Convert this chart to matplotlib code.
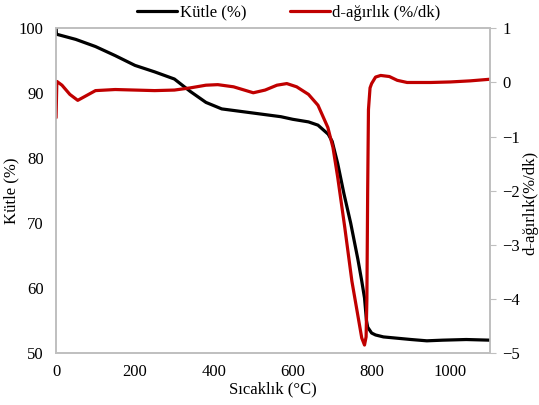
import matplotlib
matplotlib.use("Agg")
import matplotlib.pyplot as plt

# Temperature (°C) and mass (%)
mass_T = [0, 1, 50, 100, 150, 200, 250, 300, 340, 380, 420, 470, 520, 570, 600, 640,
          664, 690, 700, 714, 730, 747, 765, 775, 782, 787, 790, 800, 810, 830, 865, 900,
          940, 980, 1040, 1100]
mass = [100, 99.1, 98.3, 97.2, 95.8, 94.3, 93.3, 92.2, 90.3, 88.6, 87.6, 87.2, 86.8,
        86.4, 86.0, 85.6, 85.1, 83.7, 82.6, 79.2, 74.5, 70.0, 64.5, 61.1, 58.5, 55.0,
        54.0, 53.1, 52.8, 52.5, 52.3, 52.1, 51.9, 52.0, 52.1, 52.0]

# Temperature (°C) and derivative weight (%/dk)
deriv_T = [0, 2, 15, 35, 55, 75, 100, 150, 200, 250, 300, 340, 380, 410, 450, 500, 530,
           560, 585, 610, 640, 664, 689, 702, 714, 732, 750, 765, 775, 782, 786, 788,
           790, 792, 796, 800, 810, 823, 845, 865, 890, 950, 1000, 1050, 1100]
deriv = [-0.65, 0.02, -0.05, -0.22, -0.33, -0.25, -0.15, -0.13, -0.14, -0.15, -0.14,
         -0.10, -0.05, -0.04, -0.08, -0.19, -0.14, -0.05, -0.02, -0.08, -0.22, -0.42,
         -0.83, -1.2, -1.75, -2.68, -3.67, -4.3, -4.72, -4.85, -4.7, -4.0,
         -2.0, -0.5, -0.10, -0.02, 0.10, 0.13, 0.11, 0.04, 0.0, 0.0, 0.01, 0.03, 0.06]

x_ticks = [0, 200, 400, 600, 800, 1000]
left_ticks = [50, 60, 70, 80, 90, 100]
right_ticks = [-5, -4, -3, -2, -1, 0, 1]

plt.rcParams['font.family'] = ['Liberation Serif', 'DejaVu Serif']
plt.rcParams['font.size'] = 12

fig = plt.figure(figsize=(5.39, 4.05), dpi=100)
ax = fig.add_axes([0.104, 0.128, 0.805, 0.802])
ax2 = ax.twinx()

grey = '#bfbfbf'
l1, = ax.plot(mass_T, mass, color='black', lw=2.3, solid_joinstyle='round',
              solid_capstyle='round', label='Kütle (%)', zorder=3)
l2, = ax2.plot(deriv_T, deriv, color='#c00000', lw=2.3, solid_joinstyle='round',
               solid_capstyle='round', label='d-ağırlık (%/dk)')

ax.set_xlim(0, 1100)
ax.set_ylim(50, 100)
ax2.set_ylim(-5, 1)
ax.set_xticks(x_ticks)
ax.set_yticks(left_ticks)
ax2.set_yticks(right_ticks)

for a in (ax, ax2):
    for s in a.spines.values():
        s.set_color(grey)
        s.set_linewidth(1.2)

ax.tick_params(axis='both', length=0, colors='black', labelsize=12)
ax.tick_params(axis='y', pad=9)
ax.tick_params(axis='x', pad=8)
ax2.tick_params(axis='y', length=4, color=grey, labelsize=12, pad=5)

ax.set_xlabel('Sıcaklık (°C)', fontsize=12, labelpad=1)
ax.set_ylabel('Kütle (%)', fontsize=12)
ax2.set_ylabel('d-ağırlık(%/dk)', fontsize=12)
ax.yaxis.set_label_coords(19 / 539, 0.53, transform=fig.transFigure)
ax2.yaxis.set_label_coords(522 / 539, 0.50, transform=fig.transFigure)

fig.legend(handles=[l1, l2], loc='upper center', bbox_to_anchor=(0.536, 1.025), ncol=2,
           frameon=False, fontsize=12, handlelength=2.4, handletextpad=0.15,
           columnspacing=2.6)

fig.savefig('out.png', dpi=100)
